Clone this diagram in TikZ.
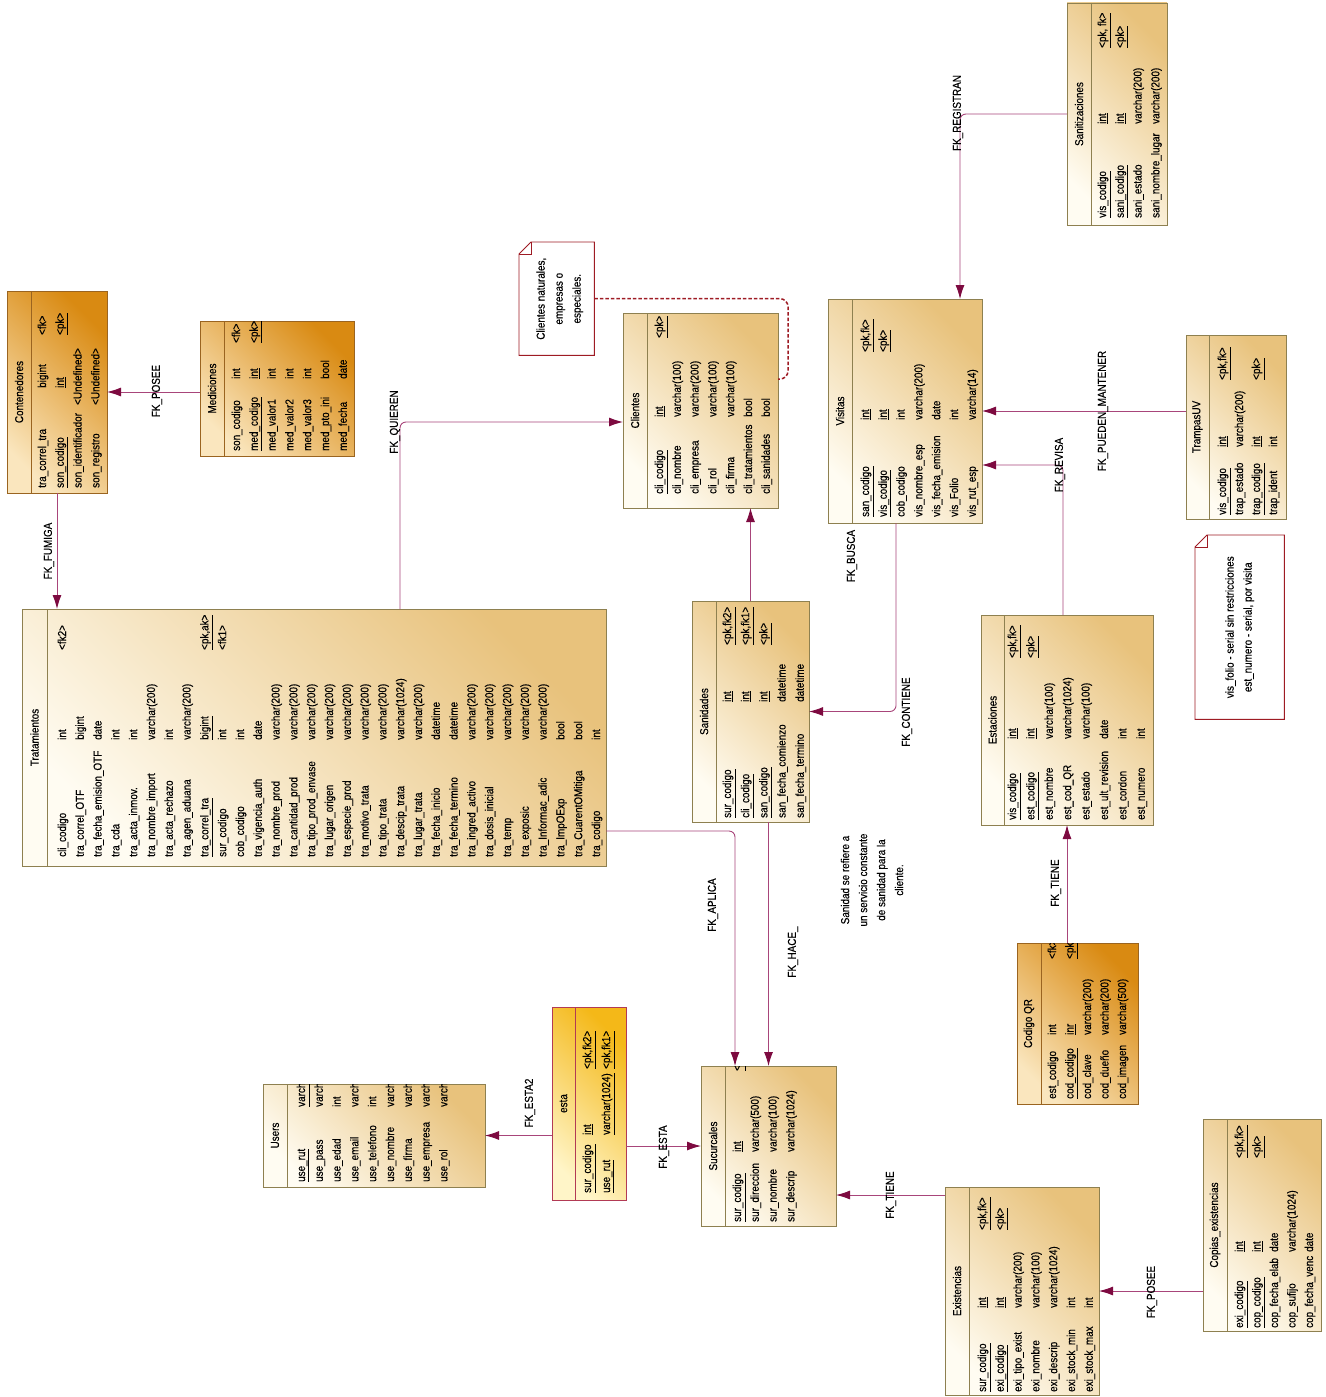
\documentclass[tikz,border=0pt]{standalone}
\usepackage{fontspec}
\setmainfont[FakeStretch=0.86,FakeBold=0.3]{Liberation Sans}
\usetikzlibrary{arrows.meta,calc,positioning}

\definecolor{tbllight}{HTML}{FFFCF2}
\definecolor{tbldark}{HTML}{E8C27C}
\definecolor{tblborder}{HTML}{8E8050}
\definecolor{dklight}{HTML}{FAE6BE}
\definecolor{dkdark}{HTML}{D98A12}
\definecolor{dkborder}{HTML}{9A6420}
\definecolor{estalight}{HTML}{FFF5C8}
\definecolor{estadark}{HTML}{F4B818}
\definecolor{estaborder}{HTML}{B23A55}
\definecolor{fkline}{HTML}{A8457A}
\definecolor{fkhead}{HTML}{7D0A40}
\definecolor{notered}{HTML}{9E1B24}

\hyphenpenalty=10000
\lefthyphenmin=62
\newcommand{\pk}[3]{\underline{#1}&\underline{#2}&\underline{#3}}

\begin{document}
\begin{tikzpicture}[x=1pt, y=-1pt,
    tbl/.style={draw=tblborder, line width=0.8pt, top color=tbllight, bottom color=tbldark, shading angle=135, anchor=north west, inner sep=0pt, outer sep=0pt},
    tbldk/.style={tbl, draw=dkborder, top color=dklight, bottom color=dkdark, shading angle=135},
    tblesta/.style={tbl, draw=estaborder, top color=estalight, bottom color=estadark, shading angle=135},
    tblsep/.style={draw=tblborder, line width=0.8pt},
    tbltitle/.style={rotate=90, inner sep=0pt, font=\fontsize{11.5}{13}\selectfont},
    tblrows/.style={rotate=90, anchor=base west, inner sep=0pt, font=\fontsize{11.5}{17.8}\selectfont},
    fk/.style={draw=fkline, line width=0.9pt, rounded corners=6pt, -{Latex[length=14pt,width=9pt,color=fkhead]}},
    fklabel/.style={rotate=90, inner sep=1pt, font=\fontsize{11.5}{13}\selectfont},
    notebox/.style={draw=notered, line width=0.9pt, fill=white},
    notetext/.style={rotate=90, align=center, font=\fontsize{11.5}{18}\selectfont},
    notelink/.style={draw=notered, line width=1.5pt, dash pattern=on 3.5pt off 2pt, rounded corners=8pt},
  ]
  \useasboundingbox (0,0) rectangle (1325,1397);

  % label lying under the Visitas box
  \node[fklabel] (lblbusca) at (852,556) {FK\_BUSCA};

  % Contenedores
  \node[tbldk, minimum width=100, minimum height=202] (contenedores) at (7,291) {};
  \draw[tblsep, draw=dkborder] ([xshift=24]contenedores.north west) -- ([xshift=24]contenedores.south west);
  \node[tbltitle] at ([xshift=12]contenedores.west) {Contenedores};
  \node[tblrows] at (46,488) {\begin{tabular}[t]{@{}p{100pt}@{}p{53pt}@{}l@{}}
    tra\_correl\_tra & bigint & <fk>\\
    \pk{son\_codigo}{int}{<pk>}\\
    \multicolumn{3}{@{}l@{}}{\makebox[83pt][l]{son\_identificador}<Undefined>}\\
    \multicolumn{3}{@{}l@{}}{\makebox[83pt][l]{son\_registro}<Undefined>}
  \end{tabular}};

  % Mediciones
  \node[tbldk, minimum width=154, minimum height=135] (mediciones) at (200,321) {};
  \draw[tblsep, draw=dkborder] ([xshift=24]mediciones.north west) -- ([xshift=24]mediciones.south west);
  \node[tbltitle] at ([xshift=12]mediciones.west) {Mediciones};
  \node[tblrows] at (240,451) {\begin{tabular}[t]{@{}p{72pt}@{}p{36pt}@{}l@{}}
    son\_codigo & int & <fk>\\
    \pk{med\_codigo}{int}{<pk>}\\
    med\_valor1 & int\\
    med\_valor2 & int\\
    med\_valor3 & int\\
    med\_pto\_ini & bool\\
    med\_fecha & date
  \end{tabular}};

  % Tratamientos
  \node[tbl, minimum width=584, minimum height=257] (tratamientos) at (22,609) {};
  \draw[tblsep] ([xshift=25]tratamientos.north west) -- ([xshift=25]tratamientos.south west);
  \node[tbltitle] at ([xshift=12.5]tratamientos.west) {Tratamientos};
  \node[tblrows] at (66,857) {\begin{tabular}[t]{@{}p{117pt}@{}p{90pt}@{}l@{}}
    cli\_codigo & int & <fk2>\\
    tra\_correl\_OTF & bigint\\
    tra\_fecha\_emision\_OTF & date\\
    tra\_cda & int\\
    tra\_acta\_inmov. & int\\
    tra\_nombre\_import & varchar(200)\\
    tra\_acta\_rechazo & int\\
    tra\_agen\_aduana & varchar(200)\\
    \pk{tra\_correl\_tra}{bigint}{<pk,ak>}\\
    sur\_codigo & int & <fk1>\\
    cob\_codigo & int\\
    tra\_vigencia\_auth & date\\
    tra\_nombre\_prod & varchar(200)\\
    tra\_cantidad\_prod & varchar(200)\\
    tra\_tipo\_prod\_envase & varchar(200)\\
    tra\_lugar\_origen & varchar(200)\\
    tra\_especie\_prod & varchar(200)\\
    tra\_motivo\_trata & varchar(200)\\
    tra\_tipo\_trata & varchar(200)\\
    tra\_descip\_trata & varchar(1024)\\
    tra\_lugar\_trata & varchar(200)\\
    tra\_fecha\_inicio & datetime\\
    tra\_fecha\_termino & datetime\\
    tra\_ingred\_activo & varchar(200)\\
    tra\_dosis\_inicial & varchar(200)\\
    tra\_temp & varchar(200)\\
    tra\_exposic & varchar(200)\\
    tra\_Informac\_adic & varchar(200)\\
    tra\_ImpOExp & bool\\
    tra\_CuarentOMitiga & bool\\
    tra\_codigo & int
  \end{tabular}};

  % Clientes
  \node[tbl, minimum width=155, minimum height=195] (clientes) at (623,313) {};
  \draw[tblsep] ([xshift=24]clientes.north west) -- ([xshift=24]clientes.south west);
  \node[tbltitle] at ([xshift=12]clientes.west) {Clientes};
  \node[tblrows] at (663,494) {\begin{tabular}[t]{@{}p{77pt}@{}p{79pt}@{}l@{}}
    \pk{cli\_codigo}{int}{<pk>}\\
    cli\_nombre & varchar(100)\\
    cli\_empresa & varchar(200)\\
    cli\_rol & varchar(100)\\
    cli\_firma & varchar(100)\\
    cli\_tratamientos & bool\\
    cli\_sanidades & bool
  \end{tabular}};

  % Visitas
  \node[tbl, minimum width=154, minimum height=224] (visitas) at (828,299) {};
  \draw[tblsep] ([xshift=24]visitas.north west) -- ([xshift=24]visitas.south west);
  \node[tbltitle] at ([xshift=12]visitas.west) {Visitas};
  \node[tblrows] at (869,517) {\begin{tabular}[t]{@{}p{97pt}@{}p{68pt}@{}l@{}}
    \pk{san\_codigo}{int}{<pk,fk>}\\
    \pk{vis\_codigo}{int}{<pk>}\\
    cob\_codigo & int\\
    vis\_nombre\_esp & varchar(200)\\
    vis\_fecha\_emision & date\\
    vis\_Folio & int\\
    vis\_rut\_esp & varchar(14)
  \end{tabular}};

  % Sanitizaciones
  \node[tbl, minimum width=100, minimum height=222] (sanitizaciones) at (1067,3) {};
  \draw[tblsep] ([xshift=24]sanitizaciones.north west) -- ([xshift=24]sanitizaciones.south west);
  \node[tbltitle] at ([xshift=12]sanitizaciones.west) {Sanitizaciones};
  \node[tblrows] at (1106,218) {\begin{tabular}[t]{@{}p{94pt}@{}p{76pt}@{}l@{}}
    \pk{vis\_codigo}{int}{<pk, fk>}\\
    \pk{sani\_codigo}{int}{<pk>}\\
    sani\_estado & varchar(200)\\
    sani\_nombre\_lugar & varchar(200)
  \end{tabular}};

  % TrampasUV
  \node[tbl, minimum width=100, minimum height=184] (trampas) at (1186,335) {};
  \draw[tblsep] ([xshift=23]trampas.north west) -- ([xshift=23]trampas.south west);
  \node[tbltitle] at ([xshift=11.5]trampas.west) {TrampasUV};
  \node[tblrows, font=\fontsize{11.5}{17}\selectfont] at (1226,515) {\begin{tabular}[t]{@{}p{68pt}@{}p{67pt}@{}l@{}}
    \pk{vis\_codigo}{int}{<pk,fk>}\\
    trap\_estado & varchar(200)\\
    \pk{trap\_codigo}{int}{<pk>}\\
    trap\_ident & int
  \end{tabular}};

  % Estaciones
  \node[tbl, minimum width=172, minimum height=210] (estaciones) at (981,615) {};
  \draw[tblsep] ([xshift=23]estaciones.north west) -- ([xshift=23]estaciones.south west);
  \node[tbltitle] at ([xshift=11.5]estaciones.west) {Estaciones};
  \node[tblrows, font=\fontsize{11.5}{18.4}\selectfont] at (1016,820) {\begin{tabular}[t]{@{}p{81pt}@{}p{81pt}@{}l@{}}
    \pk{vis\_codigo}{int}{<pk,fk>}\\
    \pk{est\_codigo}{int}{<pk>}\\
    est\_nombre & varchar(100)\\
    est\_cod\_QR & varchar(1024)\\
    est\_estado & varchar(100)\\
    est\_ult\_revision & date\\
    est\_cordon & int\\
    est\_numero & int
  \end{tabular}};

  % Sanidades
  \node[tbl, minimum width=117, minimum height=221] (sanidades) at (692,601) {};
  \draw[tblsep] ([xshift=24]sanidades.north west) -- ([xshift=24]sanidades.south west);
  \node[tbltitle] at ([xshift=12]sanidades.west) {Sanidades};
  \node[tblrows, font=\fontsize{11.5}{18.2}\selectfont] at (731,818) {\begin{tabular}[t]{@{}p{116pt}@{}p{57pt}@{}l@{}}
    \pk{sur\_codigo}{int}{<pk,fk2>}\\
    \pk{cli\_codigo}{int}{<pk,fk1>}\\
    \pk{san\_codigo}{int}{<pk>}\\
    san\_fecha\_comienzo & datetime\\
    san\_fecha\_termino & datetime
  \end{tabular}};

  % Sucurcales
  \node[tbl, minimum width=135, minimum height=160] (sucursales) at (701,1066) {};
  \draw[tblsep] ([xshift=24]sucursales.north west) -- ([xshift=24]sucursales.south west);
  \node[tbltitle] at ([xshift=12]sucursales.west) {Sucurcales};
  \begin{scope}
    \clip (sucursales.north west) rectangle (sucursales.south east);
    \node[tblrows] at (741,1222) {\begin{tabular}[t]{@{}p{70pt}@{}p{81pt}@{}l@{}}
      \pk{sur\_codigo}{int}{<pk>}\\
      sur\_direccion & varchar(500)\\
      sur\_nombre & varchar(100)\\
      sur\_descrip & varchar(1024)
    \end{tabular}};
  \end{scope}

  % Codigo QR
  \node[tbldk, minimum width=121, minimum height=161] (codigoqr) at (1017,943) {};
  \draw[tblsep, draw=dkborder] ([xshift=24]codigoqr.north west) -- ([xshift=24]codigoqr.south west);
  \node[tbltitle] at ([xshift=12]codigoqr.west) {Codigo QR};
  \begin{scope}
    \clip (codigoqr.north west) rectangle (codigoqr.south east);
    \node[tblrows, font=\fontsize{11.5}{17.5}\selectfont] at (1056,1099) {\begin{tabular}[t]{@{}p{64pt}@{}p{76pt}@{}l@{}}
      est\_codigo & int & <fk>\\
      \pk{cod\_codigo}{inr}{<pk>}\\
      cod\_clave & varchar(200)\\
      cod\_dueño & varchar(200)\\
      cod\_imagen & varchar(500)
    \end{tabular}};
  \end{scope}

  % Users
  \node[tbl, minimum width=222, minimum height=103] (users) at (263,1084) {};
  \draw[tblsep] ([xshift=24]users.north west) -- ([xshift=24]users.south west);
  \node[tbltitle] at ([xshift=12]users.west) {Users};
  \begin{scope}
    \clip (users.north west) rectangle (users.south east);
    \node[tblrows] at (305,1182) {\begin{tabular}[t]{@{}p{75pt}@{}l@{}}
      \underline{use\_rut} & \underline{varchar(12)}\\
      use\_pass & varchar(200)\\
      use\_edad & int\\
      use\_email & varchar(200)\\
      use\_telefono & int\\
      use\_nombre & varchar(200)\\
      use\_firma & varchar(200)\\
      use\_empresa & varchar(200)\\
      use\_rol & varchar(100)
    \end{tabular}};
  \end{scope}

  % esta
  \node[tblesta, minimum width=74, minimum height=193] (esta) at (552,1007) {};
  \draw[tblsep, draw=estaborder] ([xshift=23]esta.north west) -- ([xshift=23]esta.south west);
  \node[tbltitle] at ([xshift=11.5]esta.west) {esta};
  \node[tblrows, font=\fontsize{11.5}{19}\selectfont] at (591,1193) {\begin{tabular}[t]{@{}p{58pt}@{}p{66pt}@{}l@{}}
    \pk{sur\_codigo}{int}{<pk,fk2>}\\
    \pk{use\_rut}{varchar(1024)}{<pk,fk1>}
  \end{tabular}};

  % Existencias
  \node[tbl, minimum width=154, minimum height=208] (existencias) at (945,1187) {};
  \draw[tblsep] ([xshift=24]existencias.north west) -- ([xshift=24]existencias.south west);
  \node[tbltitle] at ([xshift=12]existencias.west) {Existencias};
  \node[tblrows] at (986,1392) {\begin{tabular}[t]{@{}p{84pt}@{}p{78pt}@{}l@{}}
    \pk{sur\_codigo}{int}{<pk,fk>}\\
    \pk{exi\_codigo}{int}{<pk>}\\
    exi\_tipo\_exist & varchar(200)\\
    exi\_nombre & varchar(100)\\
    exi\_descrip & varchar(1024)\\
    exi\_stock\_min & int\\
    exi\_stock\_max & int
  \end{tabular}};

  % Copias_existencias
  \node[tbl, minimum width=118, minimum height=212] (copias) at (1203,1119) {};
  \draw[tblsep] ([xshift=24]copias.north west) -- ([xshift=24]copias.south west);
  \node[tbltitle] at ([xshift=12]copias.west) {Copias\_existencias};
  \node[tblrows, font=\fontsize{11.5}{17.5}\selectfont] at (1243,1328) {\begin{tabular}[t]{@{}p{76pt}@{}p{94pt}@{}l@{}}
    \pk{exi\_codigo}{int}{<pk,fk>}\\
    \pk{cop\_codigo}{int}{<pk>}\\
    cop\_fecha\_elab & date\\
    cop\_sufijo & varchar(1024)\\
    cop\_fecha\_venc & date
  \end{tabular}};

  % notes
  \node[minimum width=75, minimum height=113, anchor=north west, inner sep=0pt] (clinote) at (519,242) {};
  \draw[notebox] ([xshift=12]clinote.north west) -- (clinote.north east) -- (clinote.south east) -- (clinote.south west) -- ([yshift=-12]clinote.north west) -- cycle;
  \draw[notebox, fill=none] ([yshift=-12]clinote.north west) -- ([xshift=12,yshift=-12]clinote.north west) -- ([xshift=12]clinote.north west);
  \node[notetext] at ([xshift=3]clinote.center) {Clientes naturales,\\empresas o\\especiales.};

  \node[minimum width=89, minimum height=184, anchor=north west, inner sep=0pt] (folionote) at (1195,535) {};
  \draw[notebox] ([xshift=12]folionote.north west) -- (folionote.north east) -- (folionote.south east) -- (folionote.south west) -- ([yshift=-12]folionote.north west) -- cycle;
  \draw[notebox, fill=none] ([yshift=-12]folionote.north west) -- ([xshift=12,yshift=-12]folionote.north west) -- ([xshift=12]folionote.north west);
  \node[notetext] at (folionote.center) {vis\_folio - serial sin restricciones\\est\_numero - serial, por visita};

  \node[notetext] (sanidadnote) at (872,880) {Sanidad se refiere a\\un servicio constante\\de sanidad para la\\cliente.};

  \draw[notelink] (clinote.east) -| ([xshift=10,yshift=31.5]clientes.east) -- ([yshift=31.5]clientes.east);

  % references
  \draw[fk] (mediciones.west |- contenedores.east) -- (contenedores.east);
  \draw[fk] (contenedores.south) -- (contenedores.south |- tratamientos.north);
  \draw[fk] ([xshift=378]tratamientos.north west) |- ([yshift=-11.5]clientes.west);
  \draw[fk] (sanidades.north) -- (sanidades.north |- clientes.south);
  \draw[fk] ([xshift=-9]visitas.south) |- (sanidades.east);
  \draw[fk] (sanitizaciones.west) -| ([xshift=55]visitas.north);
  \draw[fk] (trampas.west |- visitas.east) -- (visitas.east);
  \draw[fk] ([xshift=-4]estaciones.north) |- ([yshift=-54]visitas.east);
  \draw[fk] (estaciones.south |- codigoqr.north) -- (estaciones.south);
  \draw[fk] ([yshift=-93.5]tratamientos.east) -| ([xshift=-33.5]sucursales.north);
  \draw[fk] (sucursales.north |- sanidades.south) -- (sucursales.north);
  \draw[fk] (esta.west |- users.east) -- (users.east);
  \draw[fk] (esta.east |- sucursales.west) -- (sucursales.west);
  \coordinate (exitop) at ([yshift=-8]existencias.north west);
  \draw[fk] (exitop) -- (exitop -| sucursales.east);
  \draw[fk] (copias.west |- existencias.east) -- (existencias.east);

  % reference names
  \node[fklabel] (lblposee) at (157,391) {FK\_POSEE};
  \node[fklabel] (lblfumiga) at (49,551) {FK\_FUMIGA};
  \node[fklabel] (lblquieren) at (395,422) {FK\_QUIEREN};
  \node[fklabel] (lblcontiene) at (907,712) {FK\_CONTIENE};
  \node[fklabel] (lblregistran) at (958,113) {FK\_REGISTRAN};
  \node[fklabel] (lblmantener) at (1103,411) {FK\_PUEDEN\_MANTENER};
  \node[fklabel] (lblrevisa) at (1060,465) {FK\_REVISA};
  \node[fklabel] (lbltieneqr) at (1056,883) {FK\_TIENE};
  \node[fklabel] (lblaplica) at (713,905) {FK\_APLICA};
  \node[fklabel] (lblhace) at (793,952) {FK\_HACE\_};
  \node[fklabel] (lblesta2) at (530,1103) {FK\_ESTA2};
  \node[fklabel] (lblesta) at (664,1147) {FK\_ESTA};
  \node[fklabel] (lbltiene) at (891,1195) {FK\_TIENE};
  \node[fklabel] (lblposee2) at (1152,1292) {FK\_POSEE};
\end{tikzpicture}
\end{document}
